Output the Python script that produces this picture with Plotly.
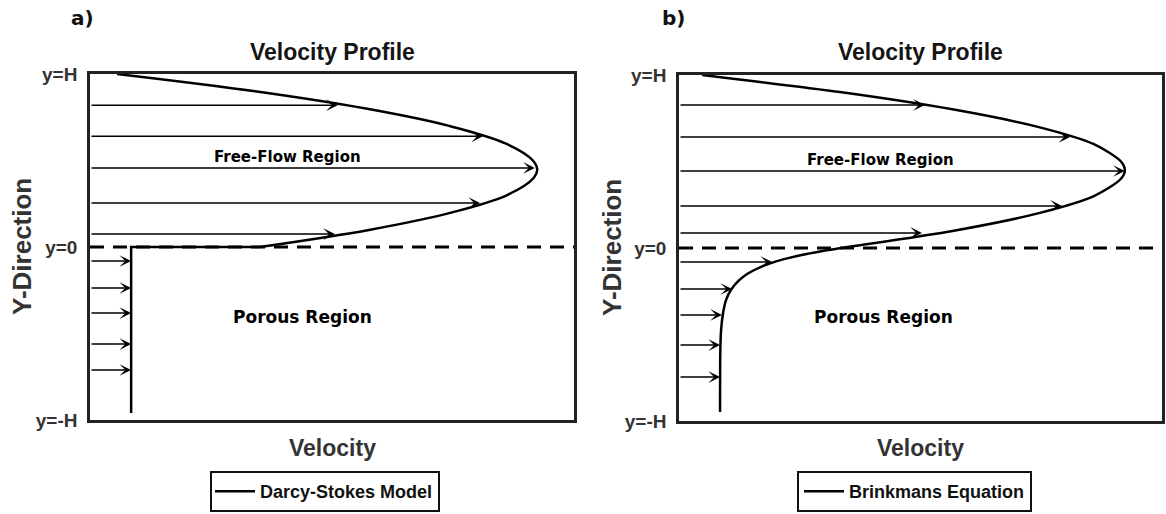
import plotly.graph_objects as go

W, H = 1166, 514

# ---------------- data (velocity in % of box width, y normalised: H=1, -H=-1) -------------
# Panel a: Darcy-Stokes model
a_free_y = [1.0, 0.9, 0.8, 0.7, 0.6, 0.5, 0.448, 0.4, 0.3, 0.2, 0.1, 0.0]
a_free_u = [5.6, 34.1, 57.0, 74.2, 85.7, 91.5, 92.4, 91.7, 86.2, 74.8, 57.9, 35.1]
a_porous_y = [0.0, 0.0, -0.96]
a_porous_u = [35.1, 8.5, 8.5]
a_arrow_y = [0.82, 0.64, 0.457, 0.254, 0.075, -0.081, -0.237, -0.382, -0.561, -0.711]
a_arrow_u = [51.2, 81.2, 91.9, 80.6, 50.6, 8.5, 8.5, 8.5, 8.5, 8.5]

# Panel b: Brinkman equation
b_y = [1.0, 0.9, 0.8, 0.7, 0.6, 0.5, 0.45, 0.4, 0.3, 0.2, 0.1, 0.0,
       -0.02, -0.04, -0.06, -0.08, -0.11, -0.15, -0.19, -0.24, -0.30, -0.38,
       -0.48, -0.60, -0.948]
b_u = [4.8, 33.7, 56.9, 74.3, 85.9, 91.5, 92.3, 91.5, 85.9, 74.3, 56.9, 33.7,
       29.2, 25.4, 22.4, 19.8, 16.9, 14.1, 12.3, 10.8, 9.75, 9.1,
       8.7, 8.55, 8.5]
b_arrow_y = [0.827, 0.642, 0.445, 0.243, 0.087, -0.081, -0.237, -0.387, -0.561, -0.746]
b_arrow_u = [50.9, 81.0, 92.3, 79.3, 50.3, 19.3, 11.0, 8.9, 8.5, 8.5]

interface_y = [0, 0]
interface_u = [0, 100]

tick_vals = [-1, 0, 1]
tick_text = ["<b>y=-H</b>", "<b>y=0</b>", "<b>y=H</b>"]

legend_a = "Darcy-Stokes Model"
legend_b = "Brinkmans Equation"


def px(x):
    return x / W


def py(y):
    return 1 - y / H


ARIAL = "Liberation Sans, Arial, sans-serif"
VERD = "DejaVu Sans, Verdana, sans-serif"

fig = go.Figure()

# interface dashed lines
for xa, ya in (("x", "y"), ("x2", "y2")):
    fig.add_trace(go.Scatter(x=interface_u, y=interface_y, mode="lines",
                             line=dict(color="black", width=3, dash="14px,9px"),
                             showlegend=False, hoverinfo="skip", xaxis=xa, yaxis=ya))

# panel a profile
fig.add_trace(go.Scatter(x=a_free_u, y=a_free_y, mode="lines",
                         line=dict(color="black", width=2.5, shape="spline", smoothing=1),
                         name="<b>" + legend_a + "</b>", legend="legend", legendgroup="a",
                         xaxis="x", yaxis="y"))
fig.add_trace(go.Scatter(x=a_porous_u, y=a_porous_y, mode="lines",
                         line=dict(color="black", width=2.5),
                         showlegend=False, legendgroup="a", xaxis="x", yaxis="y"))

# panel b profile
fig.add_trace(go.Scatter(x=b_u, y=b_y, mode="lines",
                         line=dict(color="black", width=2.5, shape="spline", smoothing=0.8),
                         name="<b>" + legend_b + "</b>", legend="legend2",
                         xaxis="x2", yaxis="y2"))

annotations = []
for us, ys, xr, yr in ((a_arrow_u, a_arrow_y, "x", "y"), (b_arrow_u, b_arrow_y, "x2", "y2")):
    for u, yv in zip(us, ys):
        annotations.append(dict(x=u, y=yv, ax=0, ay=yv, xref=xr, yref=yr, axref=xr, ayref=yr,
                                text="", showarrow=True, arrowhead=3, arrowsize=1.3,
                                arrowwidth=1.5, arrowcolor="black", standoff=0))


def txt(s, x, y, size, family=ARIAL, color="#151515", angle=0):
    annotations.append(dict(text=s, x=px(x), y=py(y), xref="paper", yref="paper",
                            showarrow=False, xanchor="center", yanchor="middle",
                            textangle=angle, font=dict(family=family, size=size, color=color)))


txt("<b>a)</b>", 82, 18, 20, VERD, "#111")
txt("<b>b)</b>", 673, 18, 20, VERD, "#111")
txt("<b>Velocity Profile</b>", 332, 52, 23)
txt("<b>Velocity Profile</b>", 920, 52, 23)
txt("<b>Y-Direction</b>", 22, 247, 26, color="#333", angle=-90)
txt("<b>Y-Direction</b>", 612, 248, 26, color="#333", angle=-90)
txt("<b>Velocity</b>", 332, 448, 23, color="#333")
txt("<b>Velocity</b>", 920, 448, 23, color="#333")
txt("<b>Free-Flow Region</b>", 287, 157, 15, VERD, "#000")
txt("<b>Free-Flow Region</b>", 880, 160, 15, VERD, "#000")
txt("<b>Porous Region</b>", 302, 317, 17, VERD, "#000")
txt("<b>Porous Region</b>", 883, 317, 17, VERD, "#000")

axis_common = dict(showgrid=False, zeroline=False, showline=True, mirror=True,
                   linecolor="#222", linewidth=2.5, fixedrange=True, automargin=False)

fig.update_layout(
    width=W, height=H, margin=dict(l=0, r=0, t=0, b=0, autoexpand=False),
    paper_bgcolor="white", plot_bgcolor="white",
    xaxis=dict(domain=[px(90), px(574)], range=[0, 100], showticklabels=False, ticks="",
               anchor="y", **axis_common),
    yaxis=dict(domain=[py(420), py(74)], range=[-1, 1], tickvals=tick_vals, ticktext=tick_text,
               ticks="outside", ticklen=6, tickcolor="rgba(0,0,0,0)",
               tickfont=dict(family=ARIAL, size=19, color="#333"), anchor="x", **axis_common),
    xaxis2=dict(domain=[px(679), px(1162)], range=[0, 100], showticklabels=False, ticks="",
                anchor="y2", **axis_common),
    yaxis2=dict(domain=[py(421), py(75)], range=[-1, 1], tickvals=tick_vals, ticktext=tick_text,
                ticks="outside", ticklen=6, tickcolor="rgba(0,0,0,0)",
                tickfont=dict(family=ARIAL, size=19, color="#333"), anchor="x2", **axis_common),
    legend=dict(x=px(210), y=py(512), xanchor="left", yanchor="bottom", orientation="h",
                bordercolor="#111", borderwidth=2, bgcolor="white",
                font=dict(family=ARIAL, size=18, color="#111"), itemwidth=40),
    legend2=dict(x=px(797), y=py(512), xanchor="left", yanchor="bottom", orientation="h",
                 bordercolor="#111", borderwidth=2, bgcolor="white",
                 font=dict(family=ARIAL, size=18, color="#111"), itemwidth=40),
    annotations=annotations,
)

fig.write_html("out.html")
